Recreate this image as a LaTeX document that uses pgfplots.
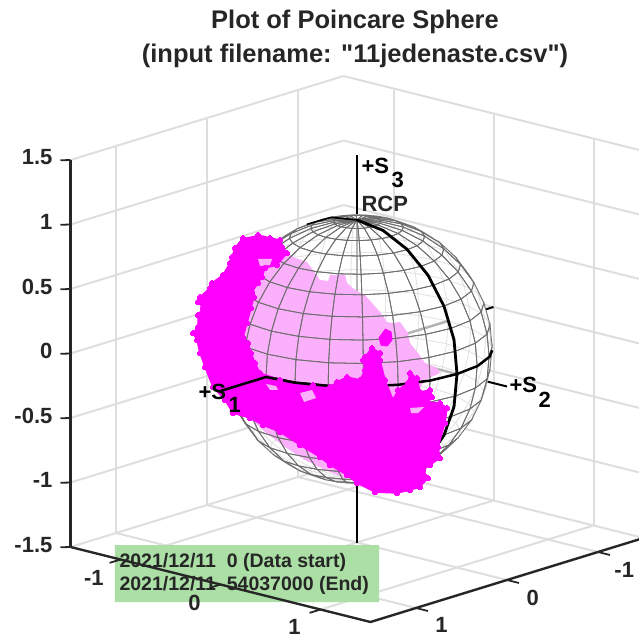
\documentclass[border=0pt]{standalone}
\usepackage{pgfplots}
\usepackage{pgfplotstable}
\usepackage{fontspec}
\setmainfont{Liberation Sans}
\newfontfamily\plainf{Liberation Sans}
\pgfplotsset{compat=1.18}
\definecolor{ax}{HTML}{262626}
\definecolor{gridc}{HTML}{DEDEDE}
\definecolor{pinkc}{HTML}{FBB0FB}
\definecolor{boxc}{HTML}{ABDFA5}
\definecolor{mag}{RGB}{255,0,255}
\definecolor{thru}{HTML}{B4B4B4}
\pgfplotstableread[row sep=\\]{
lon lat\\
0 -90\\15 -90\\30 -90\\45 -90\\60 -90\\75 -90\\90 -90\\105 -90\\120 -90\\135 -90\\150 -90\\165 -90\\180 -90\\195 -90\\210 -90\\225 -90\\240 -90\\255 -90\\270 -90\\285 -90\\300 -90\\315 -90\\330 -90\\345 -90\\360 -90\\
0 -80\\15 -80\\30 -80\\45 -80\\60 -80\\75 -80\\90 -80\\105 -80\\120 -80\\135 -80\\150 -80\\165 -80\\180 -80\\195 -80\\210 -80\\225 -80\\240 -80\\255 -80\\270 -80\\285 -80\\300 -80\\315 -80\\330 -80\\345 -80\\360 -80\\
0 -70\\15 -70\\30 -70\\45 -70\\60 -70\\75 -70\\90 -70\\105 -70\\120 -70\\135 -70\\150 -70\\165 -70\\180 -70\\195 -70\\210 -70\\225 -70\\240 -70\\255 -70\\270 -70\\285 -70\\300 -70\\315 -70\\330 -70\\345 -70\\360 -70\\
0 -60\\15 -60\\30 -60\\45 -60\\60 -60\\75 -60\\90 -60\\105 -60\\120 -60\\135 -60\\150 -60\\165 -60\\180 -60\\195 -60\\210 -60\\225 -60\\240 -60\\255 -60\\270 -60\\285 -60\\300 -60\\315 -60\\330 -60\\345 -60\\360 -60\\
0 -50\\15 -50\\30 -50\\45 -50\\60 -50\\75 -50\\90 -50\\105 -50\\120 -50\\135 -50\\150 -50\\165 -50\\180 -50\\195 -50\\210 -50\\225 -50\\240 -50\\255 -50\\270 -50\\285 -50\\300 -50\\315 -50\\330 -50\\345 -50\\360 -50\\
0 -40\\15 -40\\30 -40\\45 -40\\60 -40\\75 -40\\90 -40\\105 -40\\120 -40\\135 -40\\150 -40\\165 -40\\180 -40\\195 -40\\210 -40\\225 -40\\240 -40\\255 -40\\270 -40\\285 -40\\300 -40\\315 -40\\330 -40\\345 -40\\360 -40\\
0 -30\\15 -30\\30 -30\\45 -30\\60 -30\\75 -30\\90 -30\\105 -30\\120 -30\\135 -30\\150 -30\\165 -30\\180 -30\\195 -30\\210 -30\\225 -30\\240 -30\\255 -30\\270 -30\\285 -30\\300 -30\\315 -30\\330 -30\\345 -30\\360 -30\\
0 -20\\15 -20\\30 -20\\45 -20\\60 -20\\75 -20\\90 -20\\105 -20\\120 -20\\135 -20\\150 -20\\165 -20\\180 -20\\195 -20\\210 -20\\225 -20\\240 -20\\255 -20\\270 -20\\285 -20\\300 -20\\315 -20\\330 -20\\345 -20\\360 -20\\
0 -10\\15 -10\\30 -10\\45 -10\\60 -10\\75 -10\\90 -10\\105 -10\\120 -10\\135 -10\\150 -10\\165 -10\\180 -10\\195 -10\\210 -10\\225 -10\\240 -10\\255 -10\\270 -10\\285 -10\\300 -10\\315 -10\\330 -10\\345 -10\\360 -10\\
0 0\\15 0\\30 0\\45 0\\60 0\\75 0\\90 0\\105 0\\120 0\\135 0\\150 0\\165 0\\180 0\\195 0\\210 0\\225 0\\240 0\\255 0\\270 0\\285 0\\300 0\\315 0\\330 0\\345 0\\360 0\\
0 10\\15 10\\30 10\\45 10\\60 10\\75 10\\90 10\\105 10\\120 10\\135 10\\150 10\\165 10\\180 10\\195 10\\210 10\\225 10\\240 10\\255 10\\270 10\\285 10\\300 10\\315 10\\330 10\\345 10\\360 10\\
0 20\\15 20\\30 20\\45 20\\60 20\\75 20\\90 20\\105 20\\120 20\\135 20\\150 20\\165 20\\180 20\\195 20\\210 20\\225 20\\240 20\\255 20\\270 20\\285 20\\300 20\\315 20\\330 20\\345 20\\360 20\\
0 30\\15 30\\30 30\\45 30\\60 30\\75 30\\90 30\\105 30\\120 30\\135 30\\150 30\\165 30\\180 30\\195 30\\210 30\\225 30\\240 30\\255 30\\270 30\\285 30\\300 30\\315 30\\330 30\\345 30\\360 30\\
0 40\\15 40\\30 40\\45 40\\60 40\\75 40\\90 40\\105 40\\120 40\\135 40\\150 40\\165 40\\180 40\\195 40\\210 40\\225 40\\240 40\\255 40\\270 40\\285 40\\300 40\\315 40\\330 40\\345 40\\360 40\\
0 50\\15 50\\30 50\\45 50\\60 50\\75 50\\90 50\\105 50\\120 50\\135 50\\150 50\\165 50\\180 50\\195 50\\210 50\\225 50\\240 50\\255 50\\270 50\\285 50\\300 50\\315 50\\330 50\\345 50\\360 50\\
0 60\\15 60\\30 60\\45 60\\60 60\\75 60\\90 60\\105 60\\120 60\\135 60\\150 60\\165 60\\180 60\\195 60\\210 60\\225 60\\240 60\\255 60\\270 60\\285 60\\300 60\\315 60\\330 60\\345 60\\360 60\\
0 70\\15 70\\30 70\\45 70\\60 70\\75 70\\90 70\\105 70\\120 70\\135 70\\150 70\\165 70\\180 70\\195 70\\210 70\\225 70\\240 70\\255 70\\270 70\\285 70\\300 70\\315 70\\330 70\\345 70\\360 70\\
0 80\\15 80\\30 80\\45 80\\60 80\\75 80\\90 80\\105 80\\120 80\\135 80\\150 80\\165 80\\180 80\\195 80\\210 80\\225 80\\240 80\\255 80\\270 80\\285 80\\300 80\\315 80\\330 80\\345 80\\360 80\\
0 90\\15 90\\30 90\\45 90\\60 90\\75 90\\90 90\\105 90\\120 90\\135 90\\150 90\\165 90\\180 90\\195 90\\210 90\\225 90\\240 90\\255 90\\270 90\\285 90\\300 90\\315 90\\330 90\\345 90\\360 90\\
}\sphgrid
\pgfplotstableread{
px py
491.5 349
486.9 383.8
473.5 416.3
452.1 444.1
424.3 465.5
391.8 478.9
357 483.5
322.2 478.9
289.7 465.5
261.9 444.1
240.5 416.3
227.1 383.8
222.5 349
227.1 314.2
240.5 281.7
261.9 253.9
289.7 232.5
322.2 219.1
357 214.5
391.8 219.1
424.3 232.5
452.1 253.9
473.5 281.7
486.9 314.2
491.5 349
}\disk
\pgfplotstableread{
px py
115 545
379 545
379 602
115 602
}\greenbox
\pgfplotstableread{
px py
287 253
295 258
307 262
320 280
328 281
330 275
345 275
347 283
355 290
365 295
372 303
380 312
387 322
392 323
400 322
408 333
410 343
418 353
425 363
437 368
440 373
425 380
400 420
345 478
325 470
305 460
285 447
265 432
250 418
240 400
235 340
245 300
262 275
275 260
}\pinkarea
\pgfplotstableread{
px py
258 235
270 238
280 240
282 247
287 253
277 265
265 268
262 277
258 283
252 292
254 297
251 308
247 323
243 337
248 343
251 353
255 363
260 373
280 380
313 385
330 387
337 382
347 377
360 380
365 370
363 360
365 357
372 348
380 353
380 360
385 380
393 400
398 390
408 383
410 373
417 378
420 392
430 390
432 397
428 402
440 403
447 408
445 423
438 447
440 458
430 465
423 470
428 478
420 487
410 490
397 493
375 492
357 483
347 475
330 465
320 457
300 445
280 432
263 425
250 418
233 413
225 400
213 387
205 367
200 353
197 340
193 333
198 327
198 315
203 308
198 302
200 297
210 288
212 283
223 275
230 263
232 257
235 248
243 238
}\magentaA
\pgfplotstableread{
px py
385 329
391 332
392 340
387 346
381 345
379 337
}\magentaB
\pgfplotstableread{
px py
258 259
272 259
270 265
260 266
}\holeA
\pgfplotstableread{
px py
300 393
312 390
316 398
304 402
}\holeB
\pgfplotstableread{
px py
266 384
276 386
278 390
270 390
}\holeC
\pgfplotstableread{
px py
410 408
424 407
418 413
411 413
}\holeD
\pgfplotsset{
  table/pxt/.style={z index=0,x expr={(\thisrow{px}-357)/100},y expr=0,z expr={(349+25*(\thisrow{px}-357)/100-\thisrow{py})/129}},
  table/sph/.style={z index=0,x expr={cos(\thisrow{lat})*cos(\thisrow{lon})},y expr={cos(\thisrow{lat})*sin(\thisrow{lon})},z expr={sin(\thisrow{lat})}},
  poincare/.style={
    at={(357pt,288pt)},anchor=origin,clip=false,
    x={(100pt,-25pt)},y={(91pt,28pt)},z={(0pt,129pt)},y dir=reverse,
    xmin=-1.5,xmax=1.5,ymin=-1.5,ymax=1.5,zmin=-1.5,zmax=1.5,
    xtick={-1,0,1},ytick={-1,0,1},ztick={-1.5,-1,-0.5,0,0.5,1,1.5},
    axis line style={draw=none},
  },
}
\begin{document}
\begin{tikzpicture}[x=1pt,y=1pt]
\clip (0,0) rectangle (639,637);
\begin{axis}[poincare,
  grid=major,grid style={draw=gridc,line width=2pt},
  major tick length=0pt,tick style={draw=none},
  xticklabels={},yticklabels={},zticklabels={},
]
% black Stokes axes
\addplot3[black,line width=2pt,no markers] coordinates {(0,0,-1.5)(0,0,1.5)};
\addplot3[black,line width=2pt,no markers] coordinates {(0,1.5,0)(0,-1.5,0)};
\addplot3[black,line width=2pt,no markers] coordinates {(-1.5,0,0)(1.5,0,0)};
% sphere body
\addplot3[fill=white,draw=gray!70,line width=.5pt,smooth] table[pxt]{\disk};
\addplot3[mesh,mesh/rows=19,colormap={bk}{rgb255=(225,225,225) rgb255=(225,225,225)},line width=.5pt] table[sph]{\sphgrid};
% axes seen through the surface
\addplot3[thru,line width=2.5pt,no markers] coordinates {(0,0,0)(0,0,1)};
\addplot3[thru,line width=2.5pt,no markers] coordinates {(0,0,0)(0,-1,0)};
\addplot3[thru,line width=2.5pt,no markers] coordinates {(0,0,0)(1,0,0)};
\addplot3[fill=pinkc,draw=none] table[pxt]{\pinkarea};
\addplot3[mesh,mesh/rows=19,colormap={fr}{rgb255=(110,110,110) rgb255=(110,110,110)},line width=.8pt,unbounded coords=jump,
  restrict expr to domain={.646*cos(\thisrow{lat})*cos(\thisrow{lon})+.71*cos(\thisrow{lat})*sin(\thisrow{lon})+.279*sin(\thisrow{lat})}{-0.15:1.1}] table[sph]{\sphgrid};
% black great circles
\addplot3[black,line width=2.8pt] coordinates {(0,0,1)(0.26,0,0.97)(0.5,0,0.87)(0.71,0,0.71)(0.87,0,0.5)(0.97,0,0.26)(1,0,0)(0.97,0,-0.26)(0.87,0,-0.5)(0.71,0,-0.71)(0.5,0,-0.87)};
\addplot3[black,line width=1.6pt] coordinates {(0,0,1)(-0.26,0,0.97)(-0.5,0,0.87)};
\addplot3[black,line width=2.5pt] coordinates {(-0.1,1,0)(0.26,0.97,0)(0.5,0.87,0)(0.71,0.71,0)(0.87,0.5,0)(0.97,0.26,0)(1,0,0)(0.97,-0.26,0)(0.87,-0.5,0)(0.77,-0.64,0)};
% measured points
\addplot3[fill=mag,draw=mag,line width=1.5pt,line join=round,mark=*,mark size=2.6pt,mark options={fill=mag,draw=mag,line width=0pt}] table[pxt]{\magentaA};
\addplot3[fill=mag,draw=mag,line width=1pt,line join=round] table[pxt]{\magentaB};
\addplot3[fill=pinkc,draw=none] table[pxt]{\holeA};
\addplot3[fill=pinkc,draw=none] table[pxt]{\holeB};
\addplot3[fill=pinkc,draw=none] table[pxt]{\holeC};
\addplot3[fill=pinkc,draw=none] table[pxt]{\holeD};
% parts that lie over the points
\addplot3[black,line width=2.5pt] coordinates {(0,1.5,0)(0,1,0)(0.26,0.97,0)(0.5,0.87,0)};
\addplot3[fill=boxc,draw=none] table[pxt]{\greenbox};
\end{axis}
\begin{axis}[poincare,
  tick style={draw=none},
  tick align=outside,major tick length=10pt,
  /pgf/number format/assume math mode=true,
  ticklabel style={font=\bfseries\fontsize{22}{22}\selectfont,text=ax},
  xticklabel style={xshift=-8pt,yshift=-3.5pt},
  yticklabel style={xshift=7pt,yshift=-3.5pt},
  zticklabel style={xshift=-5pt,yshift=6pt},
]
% main axis lines
\addplot3[ax,line width=2.4pt] coordinates {(-1.5,1.5,-1.5)(-1.5,1.5,1.5)};
\addplot3[ax,line width=2.4pt] coordinates {(-1.5,1.5,-1.5)(1.5,1.5,-1.5)(1.5,-1.5,-1.5)};
% tick marks
\addplot3[ax,line width=1.8pt,unbounded coords=jump] coordinates {(-1,1.5,-1.5)(-1,1.62,-1.5)(nan,nan,nan)(0,1.5,-1.5)(0,1.62,-1.5)(nan,nan,nan)(1,1.5,-1.5)(1,1.62,-1.5)};
\addplot3[ax,line width=1.8pt,unbounded coords=jump] coordinates {(1.5,1,-1.5)(1.62,1,-1.5)(nan,nan,nan)(1.5,0,-1.5)(1.62,0,-1.5)(nan,nan,nan)(1.5,-1,-1.5)(1.62,-1,-1.5)};
\addplot3[ax,line width=1.8pt,unbounded coords=jump] coordinates {(-1.5,1.5,-1.5)(-1.55,1.555,-1.5)(nan,nan,nan)(-1.5,1.5,-1)(-1.55,1.555,-1)(nan,nan,nan)(-1.5,1.5,-0.5)(-1.55,1.555,-0.5)(nan,nan,nan)(-1.5,1.5,0)(-1.55,1.555,0)(nan,nan,nan)(-1.5,1.5,0.5)(-1.55,1.555,0.5)(nan,nan,nan)(-1.5,1.5,1)(-1.55,1.555,1)(nan,nan,nan)(-1.5,1.5,1.5)(-1.55,1.555,1.5)};
\end{axis}
\node[font=\plainf\bfseries\fontsize{25.5}{25.5}\selectfont,text=ax] at (355,615) {Plot of Poincare Sphere};
\node[font=\plainf\bfseries\fontsize{25.5}{25.5}\selectfont,text=ax] at (355,581) {(input filename: "11jedenaste.csv")};
\node[font=\bfseries\fontsize{22}{22}\selectfont,anchor=west,text=black] at (358,471) {+S};
\node[font=\bfseries\fontsize{22}{22}\selectfont,anchor=west,text=black] at (388,457) {3};
\node[font=\bfseries\fontsize{22}{22}\selectfont,anchor=west,text=ax] at (358,433) {RCP};
\node[font=\bfseries\fontsize{22}{22}\selectfont,anchor=west,text=black] at (506,252) {+S};
\node[font=\bfseries\fontsize{22}{22}\selectfont,anchor=west,text=black] at (535,237) {2};
\node[font=\bfseries\fontsize{22}{22}\selectfont,anchor=west,text=black] at (195,245) {+S};
\node[font=\bfseries\fontsize{22}{22}\selectfont,anchor=west,text=black] at (225,232) {1};
\node[font=\bfseries\fontsize{19.5}{19.5}\selectfont,anchor=west,text=ax] at (116,75) {2021/12/11\ \ 0 (Data start)};
\node[font=\bfseries\fontsize{19.5}{19.5}\selectfont,anchor=west,text=ax] at (116,52) {2021/12/11\ \ 54037000 (End)};
\end{tikzpicture}
\end{document}
